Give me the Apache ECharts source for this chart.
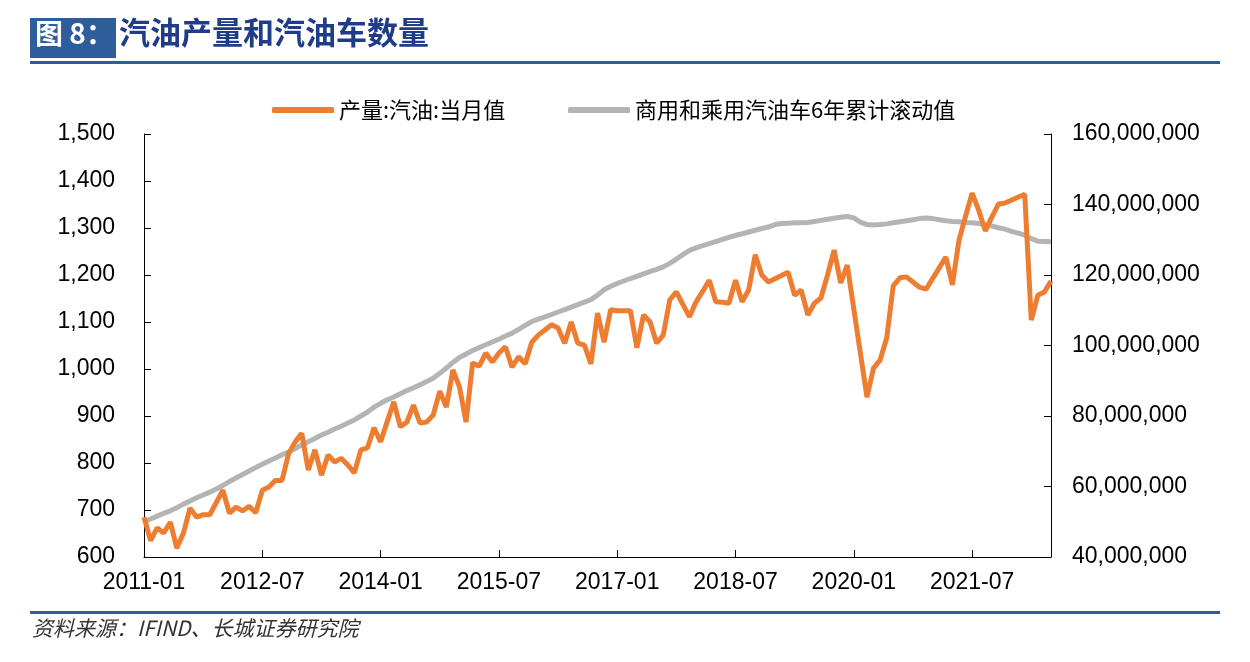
<!DOCTYPE html>
<html>
<head>
<meta charset="utf-8">
<script src="https://cdn.jsdelivr.net/npm/echarts@6/dist/echarts.min.js"></script>
<style>
  html, body { margin: 0; padding: 0; background: #fff; }
  #chart { width: 1250px; height: 662px; }
</style>
</head>
<body>
<div id="chart"></div>
<script>
// 月份 2011-01 ~ 2022-07
var months = [];
for (var y = 2011; y <= 2022; y++) {
    for (var m = 1; m <= 12; m++) {
        if (y === 2022 && m > 7) break;
        months.push(y + '-' + (m < 10 ? '0' + m : m));
    }
}

// 产量:汽油:当月值 (万吨)
var gasolineOutput = [
    685, 635, 662, 651, 674, 619, 651, 704, 685, 690, 690, 716,
    742, 693, 706, 698, 708, 694, 742, 749, 763, 763, 820, 845,
    863, 785, 828, 774, 817, 802, 810, 796, 779, 828, 832, 875,
    845, 888, 930, 877, 887, 923, 885, 887, 902, 953, 919, 998,
    962, 887, 1013, 1006, 1034, 1015, 1034, 1047, 1004, 1026, 1011, 1057,
    1072, 1083, 1094, 1087, 1055, 1100, 1055, 1051, 1011, 1119, 1057, 1126,
    1124, 1124, 1124, 1045, 1115, 1100, 1055, 1072, 1147, 1164, 1137, 1111,
    1143, 1165, 1189, 1143, 1142, 1140, 1189, 1143, 1168, 1243, 1200, 1185,
    null, null, 1206, 1157, 1168, 1115, 1140, 1151, 1200, 1253, 1183, 1221,
    null, null, 940, 1002, 1019, 1066, 1177, 1194, 1196, 1185, 1174, 1170,
    null, null, 1238, 1179, 1274, 1325, 1374, 1338, 1294, 1323, 1351, 1353,
    null, null, 1372, 1104, 1157, 1164, 1187
];

// 商用和乘用汽油车6年累计滚动值 (百万辆)
var vehicleStock = [
    50.0, 50.8, 51.6, 52.4, 53.1, 54.0, 55.0, 55.9, 56.8, 57.6, 58.4, 59.3,
    60.3, 61.4, 62.4, 63.4, 64.4, 65.4, 66.3, 67.2, 68.1, 69.0, 69.8, 70.8,
    71.8, 72.7, 73.6, 74.6, 75.4, 76.3, 77.1, 78.0, 78.9, 80.0, 81.1, 82.5,
    83.6, 84.6, 85.4, 86.3, 87.2, 88.0, 88.9, 89.8, 90.7, 92.1, 93.6, 95.2,
    96.6, 97.6, 98.6, 99.4, 100.2, 101.0, 101.8, 102.7, 103.5, 104.6, 105.7, 106.8,
    107.5, 108.1, 108.8, 109.5, 110.2, 110.9, 111.6, 112.3, 113.0, 114.3, 115.8, 116.8,
    117.6, 118.3, 119.0, 119.6, 120.3, 121.0, 121.6, 122.3, 123.3, 124.5, 125.8, 127.0,
    127.7, 128.3, 128.9, 129.5, 130.1, 130.7, 131.2, 131.7, 132.2, 132.7, 133.2, 133.6,
    134.3, 134.6, 134.7, 134.8, 134.8, 134.9, 135.2, 135.5, 135.8, 136.1, 136.4, 136.6,
    136.2, 135.0, 134.3, 134.2, 134.3, 134.5, 134.8, 135.1, 135.4, 135.7, 136.0, 136.2,
    136.0, 135.7, 135.4, 135.2, 135.1, 134.9, 134.8, 134.6, 134.3, 133.9, 133.4, 133.0,
    132.4, 131.9, 131.3, 130.3, 129.6, 129.5, 129.4
];

var leftTicks = [600, 1500, 100];     // min, max, interval
var rightTicks = [40, 160, 20];       // 百万

var seriesNames = ['产量:汽油:当月值', '商用和乘用汽油车6年累计滚动值'];
var titleBox = '图 8：';
var titleText = '汽油产量和汽油车数量';
var sourceText = '资料来源：IFIND、长城证券研究院';

var chart = echarts.init(document.getElementById('chart'));

var axisLineStyle = { color: '#000', width: 1 };
var labelFont = { color: '#000', fontSize: 23, fontFamily: 'Liberation Sans, Arial, sans-serif' };
var legendText = { color: '#000', fontSize: 22, fontFamily: 'Noto Sans CJK SC' };

chart.setOption({
    animation: false,
    backgroundColor: '#fff',
    graphic: [
        { type: 'rect', shape: { x: 30, y: 18, width: 86, height: 40 }, style: { fill: '#2E5D9B' } },
        { type: 'text', left: 35, top: 19, style: { text: titleBox, fill: '#fff', fontSize: 28, fontWeight: 'bold', fontFamily: 'Noto Sans CJK SC' } },
        { type: 'text', left: 119, top: 17, style: { text: titleText, fill: '#1F3C88', fontSize: 31, fontWeight: 'bold', fontFamily: 'Noto Sans CJK SC' } },
        { type: 'rect', shape: { x: 30, y: 61, width: 1190, height: 3 }, style: { fill: '#2E5D9B' } },
        { type: 'rect', shape: { x: 30, y: 611, width: 1190, height: 3 }, style: { fill: '#2E5D9B' } },
        { type: 'text', left: 32, top: 618, style: { text: sourceText, fill: '#333', fontSize: 21, fontStyle: 'italic', fontFamily: 'Noto Sans CJK SC' } }
    ],
    legend: [
        {
            top: 94, left: 267, itemWidth: 62, itemHeight: 6, itemGap: 4,
            textStyle: legendText,
            data: [{ name: seriesNames[0], icon: 'roundRect' }]
        },
        {
            top: 94, left: 563, itemWidth: 62, itemHeight: 6, itemGap: 4,
            textStyle: legendText,
            data: [{ name: seriesNames[1], icon: 'roundRect' }]
        }
    ],
    grid: { left: 144, right: 199, top: 134, bottom: 105 },
    xAxis: {
        type: 'category',
        data: months,
        boundaryGap: false,
        axisLine: { lineStyle: axisLineStyle },
        axisTick: { inside: true, length: 7, interval: 17, lineStyle: axisLineStyle },
        axisLabel: Object.assign({ interval: 17, margin: 14 }, labelFont),
        splitLine: { show: false }
    },
    yAxis: [
        {
            type: 'value',
            min: leftTicks[0], max: leftTicks[1], interval: leftTicks[2],
            axisLine: { show: true, lineStyle: axisLineStyle },
            axisTick: { show: true, inside: true, length: 7, lineStyle: axisLineStyle },
            axisLabel: Object.assign({
                margin: 29,
                formatter: function (v) { return v.toLocaleString('en-US'); }
            }, labelFont),
            splitLine: { show: false }
        },
        {
            type: 'value',
            min: rightTicks[0], max: rightTicks[1], interval: rightTicks[2],
            axisLine: { show: true, lineStyle: axisLineStyle },
            axisTick: { show: true, inside: true, length: 7, lineStyle: axisLineStyle },
            axisLabel: Object.assign({
                margin: 21,
                formatter: function (v) { return (v * 1e6).toLocaleString('en-US'); }
            }, labelFont),
            splitLine: { show: false }
        }
    ],
    series: [
        {
            name: seriesNames[0],
            type: 'line',
            yAxisIndex: 0,
            data: gasolineOutput,
            connectNulls: true,
            showSymbol: false,
            color: '#ED7D31',
            lineStyle: { width: 5, color: '#ED7D31' },
            z: 3
        },
        {
            name: seriesNames[1],
            type: 'line',
            yAxisIndex: 1,
            data: vehicleStock,
            showSymbol: false,
            color: '#B4B4B4',
            lineStyle: { width: 5, color: '#B4B4B4' },
            z: 2
        }
    ]
});
</script>
</body>
</html>
